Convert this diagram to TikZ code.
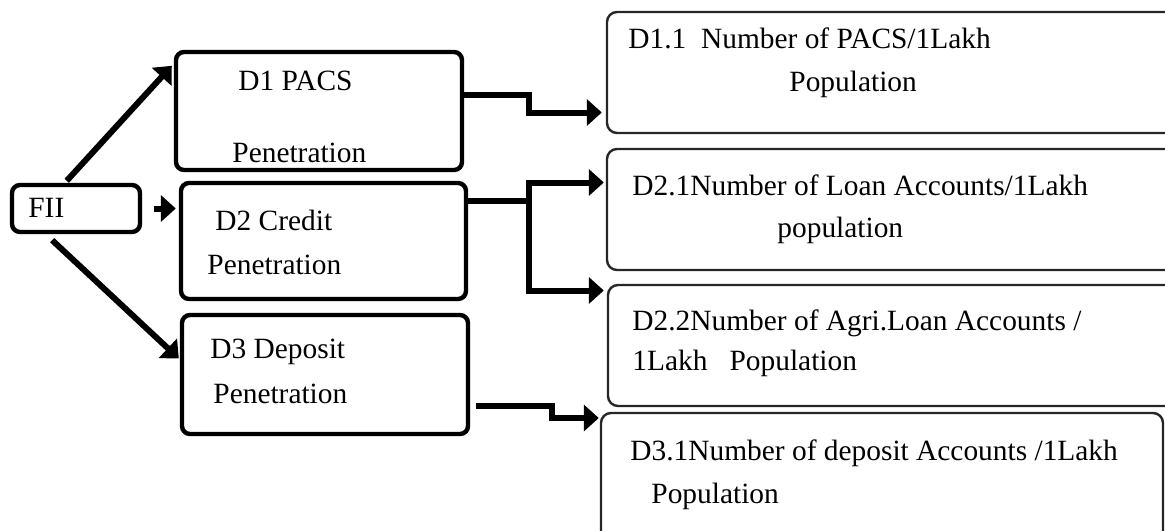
\documentclass[tikz,border=0pt]{standalone}
\usepackage{fontspec}
\setmainfont{Liberation Serif}
\usetikzlibrary{arrows.meta,fit,calc}
\begin{document}
\begin{tikzpicture}[x=0.5pt,y=-0.5pt,
  lbox/.style={draw=black, line width=2.2pt, rounded corners=4pt, inner sep=0pt},
  rbox/.style={draw=black!85, line width=1.2pt, rounded corners=5pt, inner sep=0pt},
  txt/.style={anchor=base west, inner sep=0pt, font=\fontsize{14.7}{17}\selectfont},
  conn/.style={line width=3pt, -{Triangle[length=7.5pt,width=13pt]}},
]
\useasboundingbox (0,0) rectangle (1165,530);
\clip (0,0) rectangle (1165,530);
% boxes
\node[lbox, fit={(12,185) (140,232)}] (FII) {};
\node[lbox, fit={(176,52) (462,170)}] (D1) {};
\node[lbox, fit={(181,183) (466,299)}] (D2) {};
\node[lbox, fit={(182,315) (468,434)}] (D3) {};
\node[rbox, fit={(607,12) (1185,133)}] (R1) {};
\node[rbox, fit={(607,149) (1185,270)}] (R2) {};
\node[rbox, fit={(608,285) (1185,406)}] (R3) {};
\node[rbox, fit={(601,413) (1163,545)}] (R4) {};
% texts
\node[txt] (tF) at (28,217) {FII};
\node[txt] (t1a) at (238,90) {D1 PACS};
\node[txt] (t1b) at (232,162) {Penetration};
\node[txt] (t2a) at (215,230) {D2 Credit};
\node[txt] (t2b) at (207,274) {Penetration};
\node[txt] (t3a) at (210,358) {D3 Deposit};
\node[txt] (t3b) at (213,403) {Penetration};
\node[txt] (r1a) at (628,48) {D1.1\ \ Number of PACS/1Lakh};
\node[txt] (r1b) at (789,91) {Population};
\node[txt] (r2a) at (632,195) {D2.1Number of Loan Accounts/1Lakh};
\node[txt] (r2b) at (777,237) {population};
\node[txt] (r3a) at (632,330) {D2.2Number of Agri.Loan Accounts /};
\node[txt] (r3b) at (632,370) {1Lakh\ \ \ Population};
\node[txt] (r4a) at (630,460) {D3.1Number of deposit Accounts /1Lakh};
\node[txt] (r4b) at (651,503) {Population};
% connectors
\draw[conn] ($(FII.north west)!0.43!(FII.north east)+(0,-2)$) -- ([xshift=-1pt,yshift=-8pt]D1.north west);
\draw[conn] ([xshift=6pt]FII.east) -- ([xshift=-1.5pt]D2.west |- FII.east);
\draw[conn] ($(FII.south west)!0.32!(FII.south east)+(0,6)$) -- ([xshift=-0.5pt,yshift=8pt]D3.west);
\draw[conn] ([yshift=8pt]D1.east) -- ++(65,0) |- ([xshift=-2pt,yshift=-20pt]R1.west);
\draw[conn] ([yshift=20pt]D2.east) -- ++(61,0) |- ([xshift=-1pt,yshift=13.5pt]R2.west);
\draw[conn] ([yshift=20pt]D2.east) -- ++(61,0) |- ([xshift=-1.5pt,yshift=27.5pt]R3.west);
\draw[conn] ([xshift=3pt,yshift=-15.75pt]D3.east) -- ++(76,0) |- ([xshift=-0.5pt,yshift=30.5pt]R4.west);
\end{tikzpicture}
\end{document}
